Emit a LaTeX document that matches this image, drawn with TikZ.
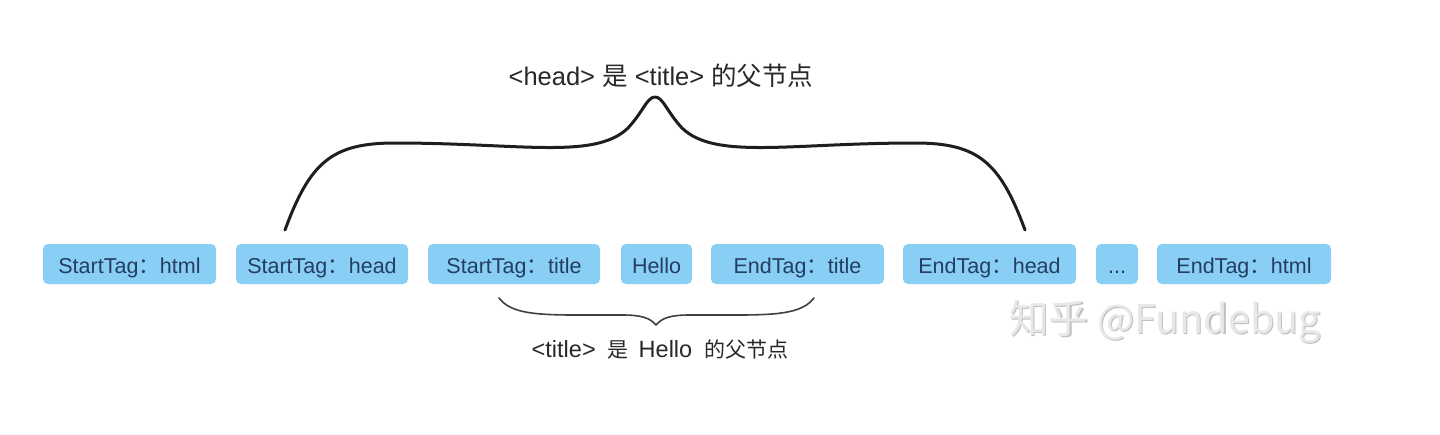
\documentclass[tikz,border=0pt]{standalone}
\usepackage{fontspec}
\setmainfont{Liberation Sans}
\newfontfamily\cjk{Noto Sans CJK SC}
\definecolor{boxfill}{RGB}{137,206,245}
\definecolor{boxtext}{RGB}{36,62,96}
\definecolor{labtext}{RGB}{40,40,40}
\definecolor{bracecol}{RGB}{30,30,30}
\begin{document}
\begin{tikzpicture}[x=1pt,y=-1pt,
  tagbox/.style={fill=boxfill, rounded corners=5pt, minimum height=40pt, inner sep=0pt,
    text height=20pt, text depth=2pt,
    text=boxtext, font=\fontsize{21.5}{25}\selectfont},
  lab/.style={text=labtext, inner sep=0pt},
  bigbrace/.style={draw=bracecol, line width=3pt, line cap=round, line join=round},
  smallbrace/.style={draw=bracecol!85, line width=1.6pt, line cap=round, line join=round}]
\useasboundingbox (0,0) rectangle (1440,434);
\fill[white] (0,0) rectangle (1440,434);
% boxes
\node[tagbox, minimum width=173pt] (b1) at (129.5,264) {StartTag{\cjk ：}html};
\node[tagbox, minimum width=172pt] (b2) at (322,264) {StartTag{\cjk ：}head};
\node[tagbox, minimum width=172pt] (b3) at (514,264) {StartTag{\cjk ：}title};
\node[tagbox, minimum width=71pt] (b4) at (656.5,264) {Hello};
\node[tagbox, minimum width=173pt] (b5) at (797.5,264) {EndTag{\cjk ：}title};
\node[tagbox, minimum width=173pt] (b6) at (989.5,264) {EndTag{\cjk ：}head};
\node[tagbox, minimum width=42pt] (b7) at (1117,264) {...};
\node[tagbox, minimum width=174pt] (b8) at (1244,264) {EndTag{\cjk ：}html};
% labels
\node[lab, font=\fontsize{25.5}{30}\selectfont] (top) at (661,76) {<head> {\cjk 是} <title> {\cjk 的父节点}};
\node[lab, font=\fontsize{23.5}{27}\selectfont] (bot) at (660,350) {<title>\hspace{12pt}{\cjk\fontsize{21}{25}\selectfont 是}\hspace{10pt}Hello\hspace{12pt}{\cjk\fontsize{21}{25}\selectfont 的父节点}};
% watermark
\node[inner sep=0pt, text=gray!50, font=\cjk\fontsize{39.5}{46}\selectfont] at (1166.3,323.3) {知乎 @Fundebug};
\node[inner sep=0pt, text=gray!18, font=\cjk\fontsize{39.5}{46}\selectfont] (wm) at (1165,322) {知乎 @Fundebug};
% top brace
\coordinate (tl) at (285,230);
\coordinate (tr) at (1025,230);
\coordinate (tp) at (655,97);
\draw[bigbrace] (tl) .. controls (310,162) and (332,143) .. (395,143)
  .. controls (520,143) and (595,160) .. (628,128)
  .. controls (643,112) and (647,97) .. (tp)
  .. controls (663,97) and (667,112) .. (682,128)
  .. controls (715,160) and (790,143) .. (915,143)
  .. controls (978,143) and (1000,162) .. (tr);
% bottom brace
\coordinate (bl) at (499,298);
\coordinate (br) at (814,298);
\coordinate (bp) at (656,325);
\draw[smallbrace] (bl) .. controls (510,312) and (530,315) .. (575,315)
  -- (622,315) .. controls (642,315) and (650,318) .. (bp)
  .. controls (662,318) and (670,315) .. (690,315)
  -- (738,315) .. controls (783,315) and (803,312) .. (br);
\end{tikzpicture}
\end{document}
